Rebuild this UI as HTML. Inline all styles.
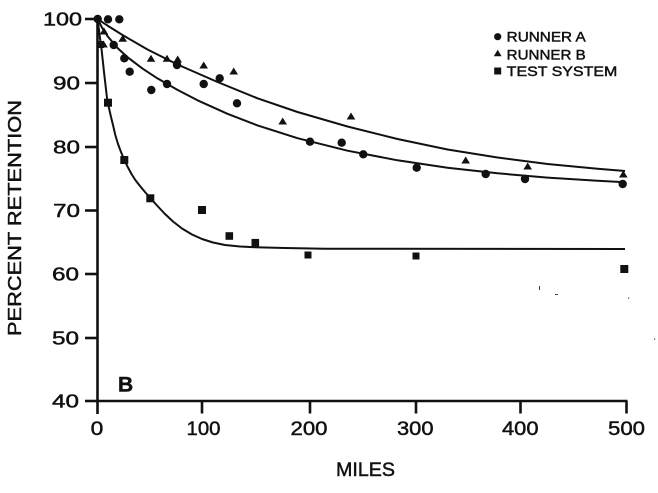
<!DOCTYPE html>
<html>
<head>
<meta charset="utf-8">
<style>
  html, body { margin: 0; padding: 0; background: #fff; }
  svg { display: block; }
  text { font-family: "Liberation Sans", Arial, sans-serif; fill: #111; stroke: #111; stroke-width: 0.45; }
</style>
</head>
<body>
<svg width="658" height="493" viewBox="0 0 658 493" xmlns="http://www.w3.org/2000/svg">
  <rect width="658" height="493" fill="#fff"/>

  <!-- Axes -->
  <g stroke="#111" stroke-width="2.6" fill="none" stroke-linecap="butt">
    <line x1="97.5" y1="18" x2="97.5" y2="414"/>
    <line x1="96" y1="401" x2="627.5" y2="401"/>
    <!-- y ticks -->
    <line x1="85" y1="19" x2="97.5" y2="19"/>
    <line x1="85" y1="83" x2="97.5" y2="83"/>
    <line x1="85" y1="147" x2="97.5" y2="147"/>
    <line x1="85" y1="210.5" x2="97.5" y2="210.5"/>
    <line x1="85" y1="274" x2="97.5" y2="274"/>
    <line x1="85" y1="338" x2="97.5" y2="338"/>
    <line x1="85" y1="401" x2="97.5" y2="401"/>
    <!-- x ticks -->
    <line x1="202" y1="401" x2="202" y2="413.5"/>
    <line x1="310" y1="401" x2="310" y2="413.5"/>
    <line x1="416" y1="401" x2="416" y2="413.5"/>
    <line x1="520.5" y1="401" x2="520.5" y2="413.5"/>
    <line x1="626.5" y1="401" x2="626.5" y2="413.5"/>
  </g>

  <!-- Y tick labels -->
  <g font-size="18">
    <text x="43" y="25.5" textLength="39" lengthAdjust="spacingAndGlyphs">100</text>
    <text x="53" y="89.5" textLength="27" lengthAdjust="spacingAndGlyphs">90</text>
    <text x="53" y="153.5" textLength="27" lengthAdjust="spacingAndGlyphs">80</text>
    <text x="53" y="217" textLength="27" lengthAdjust="spacingAndGlyphs">70</text>
    <text x="52" y="280.5" textLength="27" lengthAdjust="spacingAndGlyphs">60</text>
    <text x="52" y="344.5" textLength="27" lengthAdjust="spacingAndGlyphs">50</text>
    <text x="52" y="407.5" textLength="27" lengthAdjust="spacingAndGlyphs">40</text>
  </g>

  <!-- X tick labels -->
  <g font-size="19">
    <text x="90.7" y="435" textLength="12.7" lengthAdjust="spacingAndGlyphs">0</text>
    <text x="186.5" y="435" textLength="34" lengthAdjust="spacingAndGlyphs">100</text>
    <text x="290.5" y="435" textLength="37" lengthAdjust="spacingAndGlyphs">200</text>
    <text x="397" y="435" textLength="36.5" lengthAdjust="spacingAndGlyphs">300</text>
    <text x="502" y="435" textLength="36.5" lengthAdjust="spacingAndGlyphs">400</text>
    <text x="608" y="435" textLength="37" lengthAdjust="spacingAndGlyphs">500</text>
  </g>

  <!-- Axis titles -->
  <text x="336" y="476" font-size="19" textLength="59" lengthAdjust="spacingAndGlyphs">MILES</text>
  <text transform="translate(21,336) rotate(-90)" x="0" y="0" font-size="18.5" textLength="236" lengthAdjust="spacingAndGlyphs">PERCENT RETENTION</text>

  <!-- Panel label -->
  <text x="118" y="391.5" font-size="21" font-weight="bold">B</text>

  <!-- Fitted curves -->
  <g stroke="#111" stroke-width="2" fill="none" stroke-linejoin="round">
    <!-- Runner A -->
    <polyline points="97.5,19 102.5,28.5 107.5,36.1 117.5,48 127.5,57.2 142.5,68.6 157.5,78.4 177.5,89.9 197.5,100.3 227.5,113.8 257.5,125.4 297.5,138.2 347.5,150.7 397.5,160.3 447.5,167.7 497.5,173.3 547.5,177.6 597.5,180.8 625,182.2"/>
    <!-- Runner B -->
    <polyline points="97.5,19 107.5,25.6 122.5,35 147.5,49.5 177.5,64.5 217.5,82 257.5,98.3 297.5,112 347.5,126.5 397.5,139 447.5,149.5 497.5,157.5 547.5,164 597.5,168.8 625,171"/>
    <!-- Test system -->
    <polyline points="97.5,19 99,30 100,38 101.3,47 102.5,58 104,72 105.5,85 107,98 109,108 111,117 113,125 115.3,135 118,144 121,152 124.3,160 128,167.5 131.5,174 135.3,180 140,186 145,192 150.3,198 157,205.5 165,214 173,221.5 182,228.5 192,234.5 202,239 213,242.5 225,245 240,246.5 255,247.3 285,248 325,248.7 625,249"/>
  </g>

  <!-- Runner A circles -->
  <g fill="#111">
    <circle cx="97.7" cy="19" r="4.2"/>
    <circle cx="108" cy="19.3" r="4.2"/>
    <circle cx="119.3" cy="19.3" r="4.2"/>
    <circle cx="113.7" cy="45" r="4.2"/>
    <circle cx="124.3" cy="58.3" r="4.2"/>
    <circle cx="129.7" cy="71.7" r="4.2"/>
    <circle cx="151.3" cy="90" r="4.2"/>
    <circle cx="167" cy="84" r="4.2"/>
    <circle cx="177" cy="65" r="4.2"/>
    <circle cx="203.7" cy="84" r="4.2"/>
    <circle cx="219.7" cy="78.3" r="4.2"/>
    <circle cx="237" cy="103.3" r="4.2"/>
    <circle cx="310" cy="141.7" r="4.2"/>
    <circle cx="341.7" cy="142.7" r="4.2"/>
    <circle cx="363.3" cy="154.3" r="4.2"/>
    <circle cx="416.7" cy="167.7" r="4.2"/>
    <circle cx="485.7" cy="174" r="4.2"/>
    <circle cx="525" cy="179" r="4.2"/>
    <circle cx="622.7" cy="184" r="4.2"/>
  </g>

  <!-- Runner B triangles -->
  <g fill="#111">
    <polygon points="104,27.5 108.3,34.5 99.7,34.5"/>
    <polygon points="103.5,40.5 107.8,47.5 99.2,47.5"/>
    <polygon points="122.7,34.8 127,41.8 118.4,41.8"/>
    <polygon points="151,54.8 155.3,61.8 146.7,61.8"/>
    <polygon points="167,54.8 171.3,61.8 162.7,61.8"/>
    <polygon points="177.7,55.5 182,62.5 173.4,62.5"/>
    <polygon points="203.7,61.5 208,68.5 199.4,68.5"/>
    <polygon points="233.7,67.5 238,74.5 229.4,74.5"/>
    <polygon points="282.7,117.5 287,124.5 278.4,124.5"/>
    <polygon points="351,112.5 355.3,119.5 346.7,119.5"/>
    <polygon points="465.7,156.5 470,163.5 461.4,163.5"/>
    <polygon points="527.7,162.5 532,169.5 523.4,169.5"/>
    <polygon points="623.3,170.5 627.6,177.5 619,177.5"/>
  </g>

  <!-- Test system squares -->
  <g fill="#111">
    <rect x="97" y="41" width="7" height="7"/>
    <rect x="104" y="98.7" width="8" height="8"/>
    <rect x="120.3" y="156" width="8" height="8"/>
    <rect x="146.3" y="194.3" width="8" height="8"/>
    <rect x="198" y="206" width="8" height="8"/>
    <rect x="225.5" y="232.2" width="7.6" height="7.6"/>
    <rect x="251.5" y="238.9" width="7.6" height="7.6"/>
    <rect x="304.5" y="251.5" width="7" height="7"/>
    <rect x="412.5" y="252.5" width="7" height="7"/>
    <rect x="620.3" y="265" width="8" height="8"/>
  </g>

  <!-- Legend -->
  <circle cx="497.7" cy="36.7" r="3.6" fill="#111"/>
  <polygon points="497.7,49.8 501.6,56.3 493.8,56.3" fill="#111"/>
  <rect x="494.2" y="67.5" width="7" height="7" fill="#111"/>
  <g font-size="14">
    <text x="506.7" y="41.7" textLength="79" lengthAdjust="spacingAndGlyphs">RUNNER A</text>
    <text x="506.7" y="59.3" textLength="79" lengthAdjust="spacingAndGlyphs">RUNNER B</text>
    <text x="506.7" y="76" textLength="110.6" lengthAdjust="spacingAndGlyphs">TEST SYSTEM</text>
  </g>

  <!-- stray scan specks -->
  <g fill="#444">
    <rect x="539" y="286" width="1" height="4"/>
    <rect x="555" y="294" width="3" height="1"/>
    <rect x="628" y="297.5" width="1.2" height="1.2"/>
    <rect x="654" y="338.5" width="1.2" height="1.2"/>
  </g>
</svg>
</body>
</html>
